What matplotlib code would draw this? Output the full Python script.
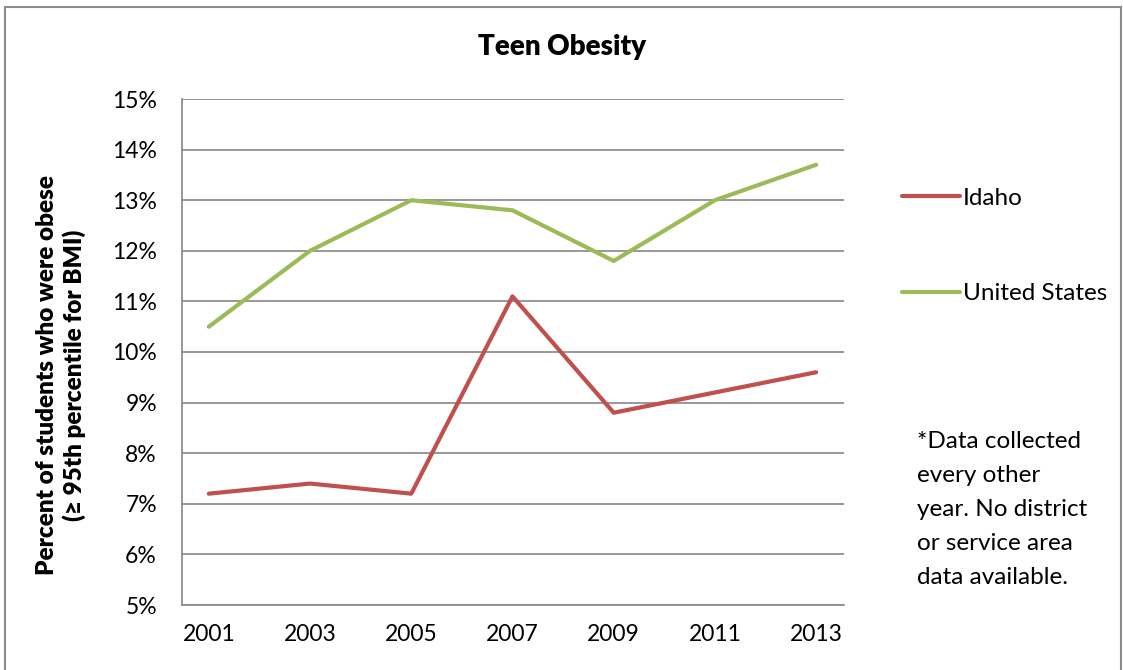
import matplotlib
matplotlib.use("Agg")
import matplotlib.pyplot as plt
from matplotlib.patches import Rectangle
from matplotlib.ticker import PercentFormatter

# Datos de obesidad adolescente (porcentaje), cada dos años
years = [2001, 2003, 2005, 2007, 2009, 2011, 2013]
idaho = [7.2, 7.4, 7.2, 11.1, 8.8, 9.2, 9.6]
united_states = [10.5, 12.0, 13.0, 12.8, 11.8, 13.0, 13.7]
y_ticks = [5, 6, 7, 8, 9, 10, 11, 12, 13, 14, 15]

plt.rcParams["font.family"] = ["Lato", "DejaVu Sans"]

fig = plt.figure(figsize=(11.23, 6.70), dpi=100)
W, H = 1123, 670
ax = fig.add_axes([182 / W, 1 - 605 / H, (844 - 182) / W, (605 - 99) / H])

grid_color = "#868686"

ax.plot(years, idaho, color="#C0504D", lw=3, solid_capstyle="round", label="Idaho")
ax.plot(years, united_states, color="#9BBB59", lw=3, solid_capstyle="round", label="United States")

ax.set_ylim(5, 15)
ax.set_xlim(2000.47, 2013.55)
ax.set_yticks(y_ticks)
ax.yaxis.set_major_formatter(PercentFormatter(decimals=0))
ax.set_xticks(years)
ax.grid(axis="y", color=grid_color, lw=1.2)
ax.set_axisbelow(True)

for side in ["top", "right"]:
    ax.spines[side].set_visible(False)
for side in ["left", "bottom"]:
    ax.spines[side].set_color(grid_color)
    ax.spines[side].set_linewidth(1.2)

ax.tick_params(axis="both", length=0, labelsize=16.5)
ax.tick_params(axis="y", pad=18)
ax.tick_params(axis="x", pad=14)

# Título centrado en la figura, no en el área del gráfico
fig.text(562 / W, 1 - 47 / H, "Teen Obesity", fontsize=20, fontweight="heavy",
         ha="center", va="center")
ax.set_ylabel("Percent of students who were obese\n(≥ 95th percentile for BMI)",
              fontsize=17.5, fontweight="heavy", labelpad=19, linespacing=1.2)
ax.yaxis.label.set_y((605 - 375) / (605 - 99))

ax.legend(loc="center left", bbox_to_anchor=(880 / W, 1 - 246 / H),
          bbox_transform=fig.transFigure, frameon=False, fontsize=17.5,
          handlelength=2.4, handletextpad=0.12, labelspacing=3.05)

fig.text(917 / W, 1 - 431 / H,
         "*Data collected\nevery other\nyear. No district\nor service area\ndata available.",
         fontsize=17.5, va="top", ha="left", linespacing=1.76)

# Borde exterior del gráfico
fig.add_artist(Rectangle((5 / W, -0.05), (1121 - 5) / W, 1 - 7 / H + 0.05,
                         transform=fig.transFigure, fill=False,
                         edgecolor="#8c8c8c", lw=1.5, clip_on=False))

fig.savefig("out.png", dpi=100)
